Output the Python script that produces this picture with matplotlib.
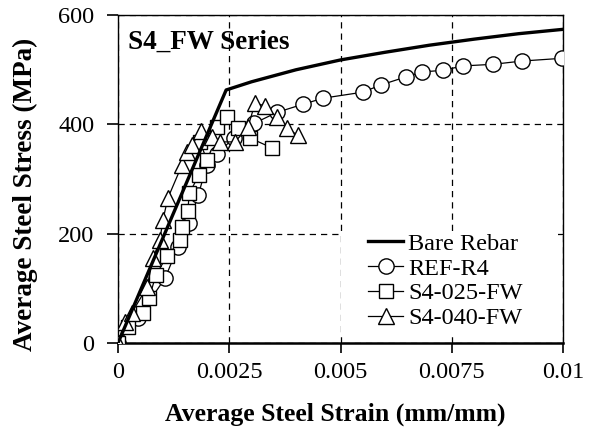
import matplotlib
matplotlib.use("Agg")
import matplotlib.pyplot as plt
from matplotlib.patches import Rectangle

# Stress-strain data (strain in mm/mm, stress in MPa)
bare_strain = [0, 0.00243, 0.003, 0.004, 0.005, 0.006, 0.007, 0.008, 0.009, 0.010]
bare_stress = [0, 463, 478, 500, 518, 532, 545, 556, 566, 574]

ref_strain = [0, 0.00045, 0.00106, 0.00135, 0.0016, 0.0018, 0.0020, 0.00222, 0.0026,
              0.00306, 0.00357, 0.00416, 0.00461, 0.0055, 0.0059, 0.00647, 0.00683,
              0.0073, 0.00775, 0.00843, 0.00908, 0.00998]
ref_stress = [0, 46, 119, 176, 220, 270, 326, 346, 375, 402, 422, 437, 448, 459, 472,
              487, 496, 499, 507, 510, 516, 521]

s025_strain = [0, 0.000225, 0.00056, 0.0007, 0.00085, 0.0011, 0.0014, 0.00144, 0.00157,
               0.0016, 0.00182, 0.0020, 0.00184, 0.00222, 0.00245, 0.0027, 0.00297, 0.00346]
s025_stress = [0, 29, 55, 82, 124, 159, 188, 212, 241, 274, 307, 335, 368, 395, 413,
               393, 375, 357]

s040_strain = [0, 0.00016, 0.00031, 0.00065, 0.00079, 0.00094, 0.00101, 0.00112, 0.00144,
               0.00155, 0.00166, 0.00186, 0.00211, 0.00229, 0.00263, 0.00292, 0.00308,
               0.0033, 0.00357, 0.0038, 0.00404]
s040_stress = [0, 38, 55, 102, 155, 188, 225, 265, 326, 349, 362, 388, 377, 368, 368,
               395, 439, 434, 413, 393, 380]

x_ticks = [0, 0.0025, 0.005, 0.0075, 0.01]
x_tick_labels = ["0", "0.0025", "0.005", "0.0075", "0.01"]
y_ticks = [0, 200, 400, 600]

plt.rcParams['font.family'] = ['Liberation Serif', 'DejaVu Serif']

fig = plt.figure(figsize=(5.89, 4.32), dpi=100)
ax = fig.add_axes([0.2003, 0.206, 0.7557, 0.759])

mk = dict(color='black', markerfacecolor='white', markeredgecolor='black',
          markeredgewidth=1.0, linewidth=0.9)
ax.plot(ref_strain, ref_stress, marker='o', markersize=11, label='REF-R4', zorder=3, **mk)
ax.plot(s025_strain, s025_stress, marker='s', markersize=10, label='S4-025-FW', zorder=3, **mk)
ax.plot(s040_strain, s040_stress, marker='^', markersize=11, label='S4-040-FW', zorder=3, **mk)
ax.plot(bare_strain, bare_stress, color='black', linewidth=2.4, label='Bare Rebar', zorder=4)

ax.set_xlim(0, 0.01)
ax.set_ylim(0, 600)
ax.set_xticks(x_ticks)
ax.set_xticklabels(x_tick_labels)
ax.set_yticks(y_ticks)
ax.tick_params(axis='both', labelsize=17.5, color='black', width=1.2)
ax.tick_params(axis='x', direction='out', length=7, pad=7)
ax.tick_params(axis='y', direction='out', length=8, pad=9)

ax.grid(True, linestyle=(0, (5, 4)), color='black', linewidth=0.9)
ax.set_axisbelow(True)

for side in ['top', 'right', 'left']:
    ax.spines[side].set_linewidth(1.0)
ax.spines['bottom'].set_linewidth(1.8)

ax.set_xlabel('Average Steel Strain (mm/mm)', fontsize=18.5, fontweight='bold')
ax.xaxis.set_label_coords(0.489, -0.183)
ax.set_ylabel('Average Steel Stress (MPa)', fontsize=19.5, fontweight='bold')
ax.yaxis.set_label_coords(-0.18, 0.454)

ax.text(0.022, 0.955, 'S4_FW Series', transform=ax.transAxes, fontsize=19.5,
        fontweight='bold', ha='left', va='top', zorder=5)

# white panel behind the legend
ax.add_patch(Rectangle((0.501, 0.024), 0.488, 0.311, transform=ax.transAxes,
                       facecolor='white', edgecolor='none', zorder=2))

handles, labels = ax.get_legend_handles_labels()
order = [3, 0, 1, 2]
leg = ax.legend([handles[i] for i in order], [labels[i] for i in order],
                loc='upper left', bbox_to_anchor=(0.562, 0.336), fontsize=17.5,
                frameon=False, handlelength=1.44, handletextpad=0.2,
                labelspacing=0.115, borderpad=0.0, borderaxespad=0.0)
leg.set_zorder(6)

fig.savefig('out.png', dpi=100)
